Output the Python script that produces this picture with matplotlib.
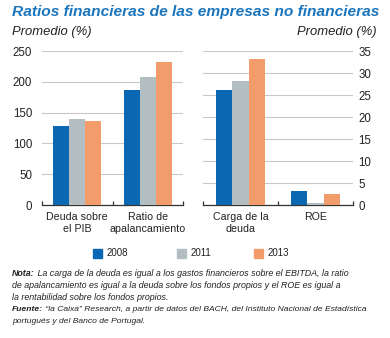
import matplotlib
matplotlib.use('Agg')
import matplotlib.pyplot as plt
import numpy as np

plt.rcParams['font.family'] = ['Liberation Sans', 'DejaVu Sans']

years = ['2008', '2011', '2013']
colors = ['#0a68b3', '#b3bec2', '#f39c6b']

left_cats = ['Deuda sobre\nel PIB', 'Ratio de\napalancamiento']
left_vals = {'2008': [128, 186], '2011': [140, 208], '2013': [137, 232]}

right_cats = ['Carga de la\ndeuda', 'ROE']
right_vals = {'2008': [26.2, 3.2], '2011': [28.1, 0.4], '2013': [33.1, 2.5]}

left_ticks = [0, 50, 100, 150, 200, 250]
right_ticks = [0, 5, 10, 15, 20, 25, 30, 35]

W, H = 390, 338
fig = plt.figure(figsize=(W / 100, H / 100), dpi=100)
renderer = fig.canvas.get_renderer()


def px_axes(x0, x1, ytop, ybot):
    return fig.add_axes([x0 / W, 1 - ybot / H, (x1 - x0) / W, (ybot - ytop) / H])


def draw_panel(ax, cats, vals, ticks, width, side):
    n = len(cats)
    centers = np.arange(n) + 0.5
    for i, y in enumerate(years):
        ax.bar(centers + (i - 1) * width, vals[y], width, color=colors[i], zorder=3)
    ax.set_xlim(0, n)
    ax.set_ylim(0, ticks[-1])
    ax.set_yticks(ticks)
    ax.yaxis.grid(True, color='#c8c8c8', lw=0.8, zorder=0)
    for s in ['top', 'left', 'right']:
        ax.spines[s].set_visible(False)
    ax.spines['bottom'].set_color('#333333')
    ax.spines['bottom'].set_linewidth(0.9)
    ax.set_xticks(np.arange(n + 1))
    ax.set_xticklabels([])
    ax.tick_params(axis='x', which='major', direction='in', length=3, width=0.9, color='#333333')
    ax.set_xticks(centers, minor=True)
    ax.set_xticklabels(cats, minor=True, fontsize=7.7, color='#222222', linespacing=1.3)
    ax.tick_params(axis='x', which='minor', length=0, pad=5)
    if side == 'right':
        ax.yaxis.tick_right()
        ax.tick_params(axis='y', length=0, pad=4, labelsize=8.3, labelcolor='#222222')
    else:
        ax.tick_params(axis='y', length=0, pad=7, labelsize=8.3, labelcolor='#222222')


ax1 = px_axes(42, 183, 51, 205)
draw_panel(ax1, left_cats, left_vals, left_ticks, 0.225, 'left')
ax2 = px_axes(203, 353, 51, 205)
draw_panel(ax2, right_cats, right_vals, right_ticks, 0.22, 'right')


def fit_text(x, y, s, target_px, **kw):
    # shrink font so the text spans target_px pixels
    t = fig.text(x, y, s, **kw)
    w = t.get_window_extent(renderer).width
    t.set_fontsize(t.get_fontsize() * target_px / w)
    return t


# titles
fit_text(12 / W, 1 - 12 / H, 'Ratios financieras de las empresas no financieras', 366,
         fontsize=12, fontweight='bold', fontstyle='italic', color='#1b75bc',
         ha='left', va='center')
fig.text(12 / W, 1 - 32 / H, 'Promedio (%)', fontsize=9.4, fontstyle='italic',
         color='#222222', ha='left', va='center')
fig.text(377 / W, 1 - 32 / H, 'Promedio (%)', fontsize=9.4, fontstyle='italic',
         color='#222222', ha='right', va='center')

# legend
leg_x = [93, 177, 254]
for x, y, c in zip(leg_x, years, colors):
    fig.patches.append(plt.Rectangle((x / W, 1 - 258 / H), 9 / W, 9 / H,
                                     transform=fig.transFigure, color=c, figure=fig))
    fig.text((x + 14) / W, 1 - 253.5 / H, y, fontsize=7, color='#222222',
             ha='left', va='center')

# notes
note_lines = [
    ('Nota:', ' La carga de la deuda es igual a los gastos financieros sobre el EBITDA, la ratio', 273, 6.4),
    ('', 'de apalancamiento es igual a la deuda sobre los fondos propios y el ROE es igual a', 285, 6.4),
    ('', 'la rentabilidad sobre los fondos propios.', 297, 6.4),
    ('Fuente:', ' “la Caixa” Research, a partir de datos del BACH, del Instituto Nacional de Estadística', 309.5, 6.1),
    ('', 'portugués y del Banco de Portugal.', 321.5, 6.1),
]
for bold, rest, y, fs in note_lines:
    x = 12 / W
    if bold:
        t = fig.text(x, 1 - y / H, bold, fontsize=fs, fontweight='bold',
                     fontstyle='italic', color='#222222', ha='left', va='center')
        bb = t.get_window_extent(renderer)
        x = bb.x1 / W
    fig.text(x, 1 - y / H, rest, fontsize=fs, fontstyle='italic',
             color='#222222', ha='left', va='center')

fig.savefig('out.png', dpi=100)
